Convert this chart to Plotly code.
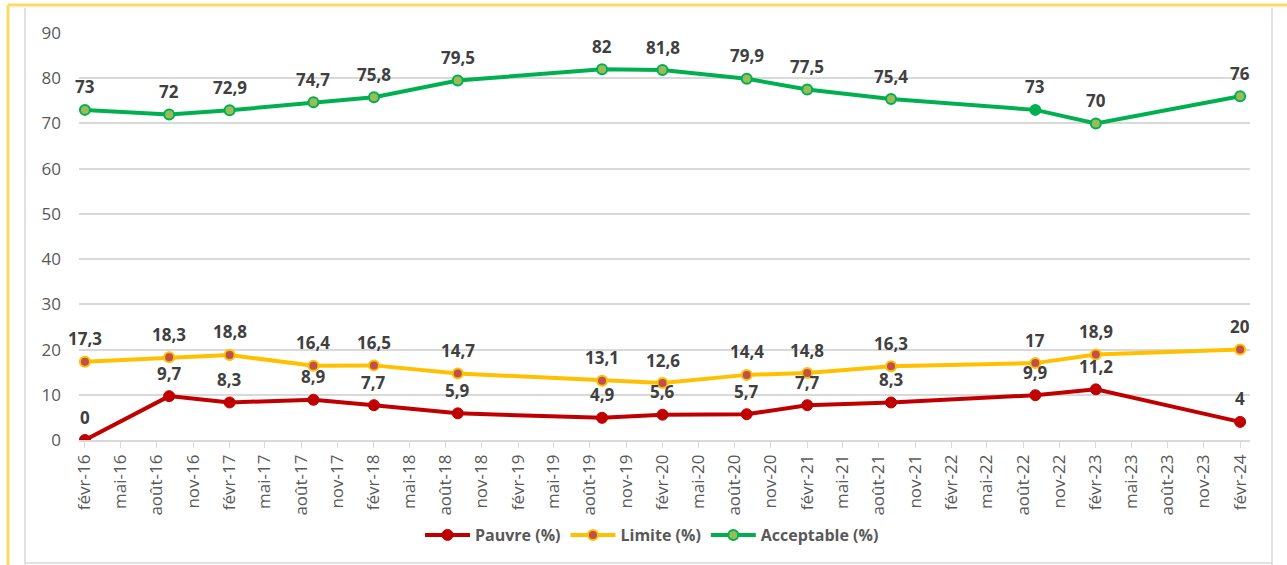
import plotly.graph_objects as go

dates = ["2016-02-01", "2016-09-01", "2017-02-01", "2017-09-01", "2018-02-01",
         "2018-09-01", "2019-09-01", "2020-02-01", "2020-09-01", "2021-02-01",
         "2021-09-01", "2022-09-01", "2023-02-01", "2024-02-01"]
pauvre = [0, 9.7, 8.3, 8.9, 7.7, 5.9, 4.9, 5.6, 5.7, 7.7, 8.3, 9.9, 11.2, 4]
limite = [17.3, 18.3, 18.8, 16.4, 16.5, 14.7, 13.1, 12.6, 14.4, 14.8, 16.3, 17, 18.9, 20]
acceptable = [73, 72, 72.9, 74.7, 75.8, 79.5, 82, 81.8, 79.9, 77.5, 75.4, 73, 70, 76]

month_fr = {2: "févr", 5: "mai", 8: "août", 11: "nov"}
tick_vals = []
tick_text = []
for y in range(2016, 2025):
    for m in (2, 5, 8, 11):
        if (y == 2024 and m > 2):
            continue
        tick_vals.append(f"{y}-{m:02d}-01")
        tick_text.append(f"{month_fr[m]}-{str(y)[2:]}")

def fmt(v):
    s = f"{v:g}"
    return s.replace(".", ",")

W, H = 1287, 565
L, R, T, B = 79, 1250, 33, 440

fig = go.Figure()
acc_colors = ["#9BBB59"] * len(acceptable)
acc_colors[11] = "#00B050"

fig.add_trace(go.Scatter(x=dates, y=pauvre, name="Pauvre (%)", mode="lines+markers",
                         line=dict(color="#C00000", width=4),
                         marker=dict(color="#C00000", size=11, line=dict(color="#C00000", width=1))))
fig.add_trace(go.Scatter(x=dates, y=limite, name="Limite (%)", mode="lines+markers",
                         line=dict(color="#FFC000", width=4),
                         marker=dict(color="#C0504D", size=10, line=dict(color="#FFC000", width=2))))
fig.add_trace(go.Scatter(x=dates, y=acceptable, name="Acceptable (%)", mode="lines+markers",
                         line=dict(color="#00B050", width=4),
                         marker=dict(color=acc_colors, size=10, line=dict(color="#00B050", width=2))))

anns = []
for series in (pauvre, limite, acceptable):
    for d, v in zip(dates, series):
        anns.append(dict(x=d, y=v, text=fmt(v), showarrow=False, yshift=23,
                         font=dict(family="Open Sans", size=17, color="#404040", weight="bold")))

def px(xp):
    return (xp - L) / (R - L)

def py(yp):
    return (B - yp) / (B - T)

shapes = [
    dict(type="line", xref="paper", yref="paper", x0=px(8), x1=px(1287), y0=py(5), y1=py(5),
         line=dict(color="#FFD966", width=3)),
    dict(type="line", xref="paper", yref="paper", x0=px(8), x1=px(8), y0=py(5), y1=py(565),
         line=dict(color="#FFD966", width=3)),
    dict(type="line", xref="paper", yref="paper", x0=px(25), x1=px(25), y0=py(8), y1=py(565),
         line=dict(color="#D9D9D9", width=1.5)),
    dict(type="line", xref="paper", yref="paper", x0=px(1272), x1=px(1272), y0=py(8), y1=py(565),
         line=dict(color="#D9D9D9", width=1.5)),
    dict(type="line", xref="paper", yref="paper", x0=px(25), x1=px(1272), y0=py(563), y1=py(563),
         line=dict(color="#D9D9D9", width=1.5)),
]

fig.update_layout(
    width=W, height=H,
    margin=dict(l=L, r=W - R, t=T, b=H - B),
    paper_bgcolor="white", plot_bgcolor="white",
    font=dict(family="Open Sans", color="#595959"),
    annotations=anns,
    shapes=shapes,
    showlegend=True,
    legend=dict(orientation="h", x=px(652), xanchor="center", y=py(535), yanchor="middle",
                font=dict(family="Open Sans", size=16, color="#595959", weight="bold"),
                itemwidth=45, bgcolor="rgba(0,0,0,0)"),
    xaxis=dict(type="date", range=["2016-01-17", "2024-02-26"],
               tickmode="array", tickvals=tick_vals, ticktext=tick_text,
               tickangle=-90, tickfont=dict(size=17, color="#595959", family="Open Sans"),
               showgrid=False, showline=True, linecolor="#D9D9D9", linewidth=1.5,
               ticks="outside", ticklen=6, tickcolor="#D9D9D9", zeroline=False),
    yaxis=dict(range=[0, 90], tickvals=list(range(0, 91, 10)),
               tickfont=dict(size=17, color="#595959", family="Open Sans"),
               showgrid=True, gridcolor="#D9D9D9", gridwidth=1.5, zeroline=False,
               showline=False, ticks="", ticklabelstandoff=17),
)

fig.write_html("out.html", config={"displayModeBar": False},
               post_script="document.body.style.margin='0';document.body.style.overflow='hidden';")
